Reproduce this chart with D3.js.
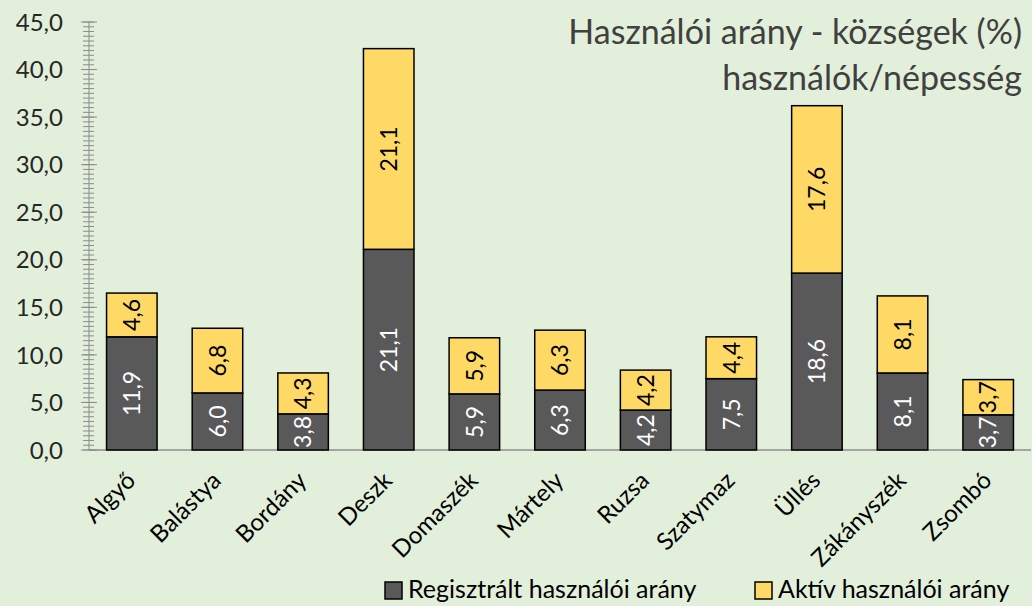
<!DOCTYPE html>
<html>
<head>
<meta charset="utf-8">
<script src="https://cdn.jsdelivr.net/npm/d3@7"></script>
<style>
  body { margin: 0; background: #e2efda; }
  svg { display: block; font-family: Lato, "Open Sans", sans-serif; }
</style>
</head>
<body>
<div id="chart"></div>
<script>
const categories = ["Algyő", "Balástya", "Bordány", "Deszk", "Domaszék", "Mártely", "Ruzsa", "Szatymaz", "Üllés", "Zákányszék", "Zsombó"];
const registered = [11.9, 6.0, 3.8, 21.1, 5.9, 6.3, 4.2, 7.5, 18.6, 8.1, 3.7];
const active = [4.6, 6.8, 4.3, 21.1, 5.9, 6.3, 4.2, 4.4, 17.6, 8.1, 3.7];
const seriesNames = ["Regisztrált használói arány", "Aktív használói arány"];
const yTicks = [0, 5, 10, 15, 20, 25, 30, 35, 40, 45];

const width = 1032, height = 606;
const margin = {top: 22, right: 1, bottom: 156, left: 89};
const colors = ["#595959", "#ffd966"];
const fmt = v => d3.format(".1f")(v).replace(".", ",");

const svg = d3.select("#chart")
    .append("svg")
    .attr("width", width)
    .attr("height", height);

svg.append("rect")
    .attr("width", width)
    .attr("height", height)
    .style("fill", "#e2efda");

const x = d3.scaleBand()
    .domain(categories)
    .range([margin.left, width - margin.right])
    .paddingInner(0.41)
    .paddingOuter(0.205);

const y = d3.scaleLinear()
    .domain([0, 45])
    .range([height - margin.bottom, margin.top]);

// y axis: minor ticks every 0.5, major every 5
const yAxis = svg.append("g").attr("class", "y-axis");
yAxis.append("line")
    .attr("x1", margin.left).attr("x2", margin.left)
    .attr("y1", y(0)).attr("y2", y(45))
    .style("stroke", "#8c8c8c");
yAxis.selectAll("line.minor")
    .data(d3.range(0, 45.01, 0.5))
    .enter().append("line")
    .attr("class", "minor")
    .attr("x1", margin.left - 6).attr("x2", margin.left + 5)
    .attr("y1", d => y(d)).attr("y2", d => y(d))
    .style("stroke", "#8c8c8c");
yAxis.selectAll("line.major")
    .data(yTicks)
    .enter().append("line")
    .attr("class", "major")
    .attr("x1", margin.left - 8).attr("x2", margin.left + 8)
    .attr("y1", d => y(d)).attr("y2", d => y(d))
    .style("stroke", "#8c8c8c");
yAxis.selectAll("text")
    .data(yTicks)
    .enter().append("text")
    .attr("x", 63)
    .attr("y", d => y(d))
    .attr("dy", "0.36em")
    .attr("text-anchor", "end")
    .style("font-size", "24px")
    .style("fill", "#262626")
    .text(fmt);

// x axis line
svg.append("line")
    .attr("x1", margin.left).attr("x2", width - margin.right)
    .attr("y1", y(0)).attr("y2", y(0))
    .style("stroke", "#8c8c8c")
    .style("stroke-width", 1.5);

const stacked = d3.stack().keys([0, 1])(categories.map((c, i) => [registered[i], active[i]]));

const groups = svg.append("g").attr("class", "bars")
  .selectAll("g")
    .data(stacked)
  .enter().append("g")
    .style("fill", (d, i) => colors[i]);

groups.selectAll("rect")
    .data(d => d.map((v, i) => ({v, i})))
  .enter().append("rect")
    .attr("x", d => x(categories[d.i]))
    .attr("width", x.bandwidth())
    .attr("y", d => y(d.v[1]))
    .attr("height", d => y(d.v[0]) - y(d.v[1]))
    .style("stroke", "#000")
    .style("stroke-width", 1.5);

// value labels, rotated
stacked.forEach((s, k) => {
  svg.append("g").selectAll("text")
      .data(s.map((v, i) => ({v, i})))
    .enter().append("text")
      .attr("transform", d => {
        const cx = x(categories[d.i]) + x.bandwidth() / 2;
        const cy = (y(d.v[0]) + y(d.v[1])) / 2;
        return `translate(${cx},${cy}) rotate(-90)`;
      })
      .attr("text-anchor", "middle")
      .attr("dy", "0.36em")
      .style("font-size", "23px")
      .style("fill", k === 0 ? "#fff" : "#000")
      .text(d => fmt(d.v[1] - d.v[0]));
});

// category labels
svg.append("g").selectAll("text")
    .data(categories)
  .enter().append("text")
    .attr("transform", d => `translate(${x(d) + x.bandwidth() / 2 + 5},${y(0) + 32}) rotate(-45)`)
    .attr("text-anchor", "end")
    .style("font-size", "24px")
    .style("fill", "#000")
    .text(d => d);

// title
const title = svg.append("text")
    .attr("text-anchor", "end")
    .style("font-size", "34px")
    .style("fill", "#404040");
title.append("tspan").attr("x", 1022).attr("y", 44).text("Használói arány - községek (%)");
title.append("tspan").attr("x", 1022).attr("y", 90).text("használók/népesség");

// legend
const legendX = [385, 755];
const legend = svg.append("g").selectAll("g")
    .data(seriesNames)
  .enter().append("g")
    .attr("transform", (d, i) => `translate(${legendX[i]},582)`);
legend.append("rect")
    .attr("width", 17).attr("height", 17)
    .style("fill", (d, i) => colors[i])
    .style("stroke", "#000")
    .style("stroke-width", 1.5);
legend.append("text")
    .attr("x", 23).attr("y", 16)
    .style("font-size", "25px")
    .style("fill", "#000")
    .text(d => d);
</script>
</body>
</html>
